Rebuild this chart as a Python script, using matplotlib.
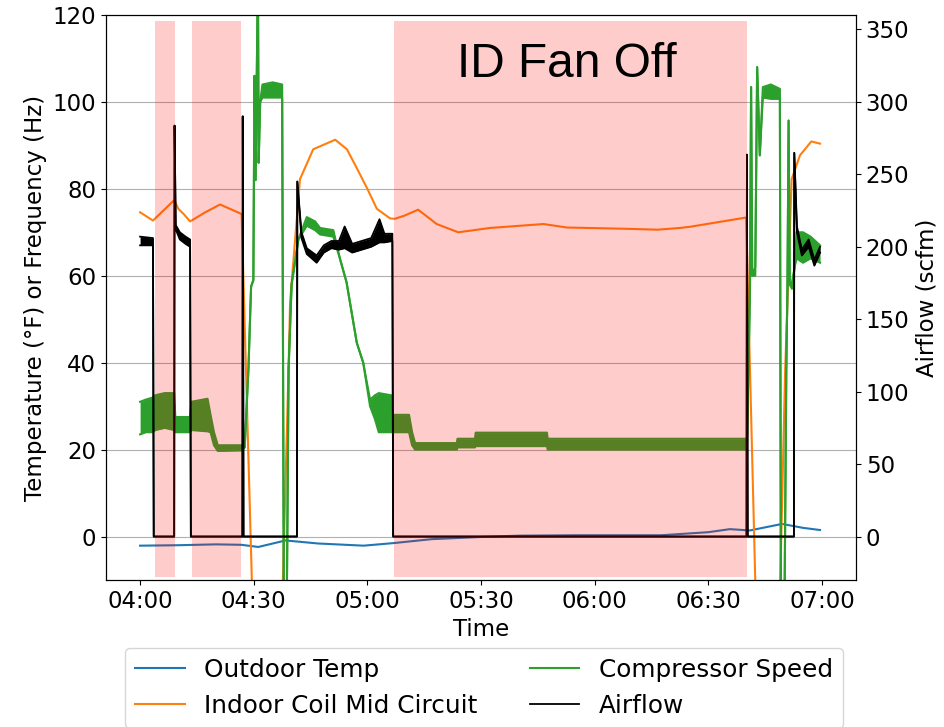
import numpy as np
import pandas as pd
import matplotlib
matplotlib.use("Agg")
import matplotlib.pyplot as plt
import matplotlib.dates as mdates

# minutes after 04:00 for every series
outdoor_min = [0, 10, 20, 26.7, 31.2, 38.4, 47, 59, 67, 77, 90, 100, 115, 137.6, 150, 155.7, 161, 165.5, 169.5, 175, 179.5]
outdoor_temp = [-2.1, -2.0, -1.8, -1.9, -2.4, -0.9, -1.6, -2.1, -1.5, -0.6, -0.1, 0.2, 0.3, 0.3, 1.0, 1.7, 1.4, 2.2, 2.9, 2.0, 1.5]

coil_min = [0, 3.4, 9.0, 10.1, 11.5, 13.2, 17, 21.1, 26.8, 29.5, 30.3, 37.0, 37.7, 39.2, 39.6, 42.2, 45.7,
            51.5, 54.6, 57.3, 60.0, 62.5, 66.0, 67.2, 69.7, 73.4, 78.3, 84.0, 92.4, 106.5, 112.7, 128.6,
            136.6, 142.6, 145.4, 160.0, 162.4, 163.2, 168.3, 169.0, 170.3, 172.0, 174.2, 177.2, 179.5]
coil_temp = [74.6, 72.7, 77.4, 75.4, 74.2, 72.5, 74.5, 76.4, 74.2, -10, -30, -30, -10, 38.9, 54, 82.2, 89.1,
             91.3, 89.1, 84.6, 80, 75.4, 73.2, 73.1, 73.8, 75.2, 71.9, 70, 71, 71.9, 71.1, 70.8,
             70.6, 71, 71.3, 73.4, -10, -30, -30, -10, 38.4, 82.2, 87.7, 90.9, 90.4]

# compressor speed, low/high edge of the noisy signal
comp_min = [0, 1.5, 3.4, 4.0, 6.5, 9.0, 9.3, 13.2, 13.5, 17.8, 18.6, 19.5, 20.5, 26.8, 27.6, 28.6, 29.3,
            29.9, 30.2, 30.5, 30.8, 31.1, 31.3, 31.7, 32.3, 35.0, 37.5, 38.0, 38.6, 39.2, 40.0, 41.8,
            44.0, 46.2, 47.5, 51.0, 52.8, 54.5, 57.2, 58.9, 60.7, 62.0, 63.0, 66.3, 66.6, 71.0, 71.8,
            72.6, 83.6, 83.8, 88.4, 88.6, 107.4, 107.6, 160.2, 160.6, 161.0, 161.3, 161.6, 162.4,
            162.9, 163.6, 164.4, 166.5, 168.9, 169.2, 170.0, 170.6, 170.9, 171.2, 171.5, 172.1,
            172.8, 173.3, 175.0, 177.0, 179.5]
comp_lo = [23.5, 24.0, 24.0, 24.5, 25.0, 24.5, 24.0, 24.0, 24.5, 24.2, 24.0, 21.0, 19.7, 19.8, 20.5, 38.5, 57.5,
           59.0, 106.0, 82.0, 106.0, 130.0, 86.0, 100.0, 101.0, 101.0, 101.0, -30, -30, 38.5, 58.0, 68.4,
           71.5, 70.5, 69.5, 69.0, 63.8, 58.5, 44.6, 40.0, 30.0, 27.0, 24.0, 24.0, 24.0, 24.0, 21.0,
           20.0, 20.0, 20.5, 20.5, 20.8, 20.8, 20.0, 20.0, 38.5, 56.0, 103.4, 60.0, 60.0,
           108.0, 87.7, 101.0, 100.7, 100.7, -30, -30, 38.5, 58.0, 95.7, 58.0, 57.0,
           62.0, 64.0, 63.0, 64.0, 63.0]
comp_hi = [31.0, 31.5, 32.0, 32.5, 33.0, 33.0, 27.5, 27.5, 31.0, 31.7, 28.0, 24.0, 21.0, 21.0, 20.5, 38.5, 57.5,
           59.0, 106.0, 82.0, 106.0, 130.0, 86.0, 100.0, 104.0, 104.5, 104.0, -30, -30, 38.5, 58.0, 68.4,
           73.5, 72.5, 71.0, 70.5, 63.8, 58.5, 44.6, 40.0, 31.5, 32.5, 33.0, 32.5, 28.0, 28.0, 24.0,
           21.5, 21.5, 22.5, 22.5, 23.9, 23.9, 22.5, 22.5, 38.5, 56.0, 103.4, 60.0, 62.0,
           108.0, 87.7, 103.4, 104.0, 103.0, -30, -30, 38.5, 58.0, 95.7, 58.0, 58.5,
           62.0, 70.0, 70.0, 69.0, 67.0]

# airflow, low/high edge of the noisy signal
air_min = [0, 3.4, 3.6, 9.0, 9.1, 9.4, 10.5, 12.0, 13.2, 13.4, 27.0, 27.1, 27.3, 41.4, 41.5, 42.6, 44.0,
           46.6, 48.5, 50.5, 52.5, 54.0, 56.0, 58.5, 61.0, 63.2, 64.5, 66.6, 66.8, 160.1, 160.2,
           160.4, 172.6, 172.7, 173.4, 174.7, 176.5, 178.0, 179.5]
air_lo = [201, 201, 0, 0, 283.6, 212, 205, 202, 200, 0, 0, 290, 0, 0, 245, 206, 195,
          189, 196, 199, 198, 199, 196, 198, 200, 203, 203, 204, 0, 0, 263.6,
          0, 0, 264.8, 210, 194, 200, 187, 196]
air_hi = [207, 206, 0, 0, 283.6, 215, 210, 207, 205, 0, 0, 290, 0, 0, 245, 210, 199,
          194, 201, 204, 204, 214, 202, 204, 206, 219, 209, 209, 0, 0, 263.6,
          0, 0, 264.8, 214, 198, 205, 191, 200]

# periods with the indoor fan off (minutes after 04:00)
fan_off_start = [3.96, 13.7, 67.05]
fan_off_end = [9.24, 26.7, 160.2]

base = pd.Timestamp("2024-01-01 04:00")


def to_time(minutes):
    return base + pd.to_timedelta(np.asarray(minutes, dtype=float), unit="min")


plt.rcParams["font.size"] = 16.5

fig = plt.figure(figsize=(9.44, 7.27), dpi=100)
ax1 = fig.add_axes([0.1123, 0.2022, 0.7945, 0.7772])
ax2 = ax1.twinx()

ax1.plot(to_time(outdoor_min), outdoor_temp, color="C0", label="Outdoor Temp")
ax1.plot(to_time(coil_min), coil_temp, color="C1", label="Indoor Coil Mid Circuit")
comp_t = to_time(comp_min)
ax1.plot(comp_t, comp_lo, color="C2", label="Compressor Speed")
ax1.plot(comp_t, comp_hi, color="C2")
ax1.fill_between(comp_t, comp_lo, comp_hi, color="C2", linewidth=0)

air_t = to_time(air_min)
ax2.plot(air_t, air_lo, color="k", lw=1.3, label="Airflow")
ax2.plot(air_t, air_hi, color="k", lw=1.3)
ax2.fill_between(air_t, air_lo, air_hi, color="k", linewidth=0)

# shade the fan-off periods over everything
for s, e in zip(fan_off_start, fan_off_end):
    ax2.axvspan(to_time([s])[0], to_time([e])[0], ymin=0.005, ymax=0.99,
                color="red", alpha=0.2, linewidth=0, zorder=3)

ax1.set_ylim(-10, 120)
ax2.set_ylim(-30, 360)
ax1.set_xlim(to_time([-9])[0], to_time([189])[0])
ax1.set_yticks([0, 20, 40, 60, 80, 100, 120])
ax2.set_yticks([0, 50, 100, 150, 200, 250, 300, 350])
ax1.yaxis.grid(True)

ax1.xaxis.set_major_locator(mdates.MinuteLocator(byminute=[0, 30]))
ax1.xaxis.set_major_formatter(mdates.DateFormatter("%H:%M"))

ax1.set_xlabel("Time")
ax1.set_ylabel("Temperature (°F) or Frequency (Hz)")
ax2.set_ylabel("Airflow (scfm)")

fig.text(0.6003, 0.8945, "ID Fan Off", family="Liberation Sans", fontsize=34.5,
         ha="center", va="baseline")

h1, l1 = ax1.get_legend_handles_labels()
h2, l2 = ax2.get_legend_handles_labels()
fig.legend(h1 + h2, l1 + l2, ncol=2, loc="upper center", bbox_to_anchor=(0.5127, 0.126),
           fontsize=17.8, columnspacing=2.1)

plt.savefig("out.png")
